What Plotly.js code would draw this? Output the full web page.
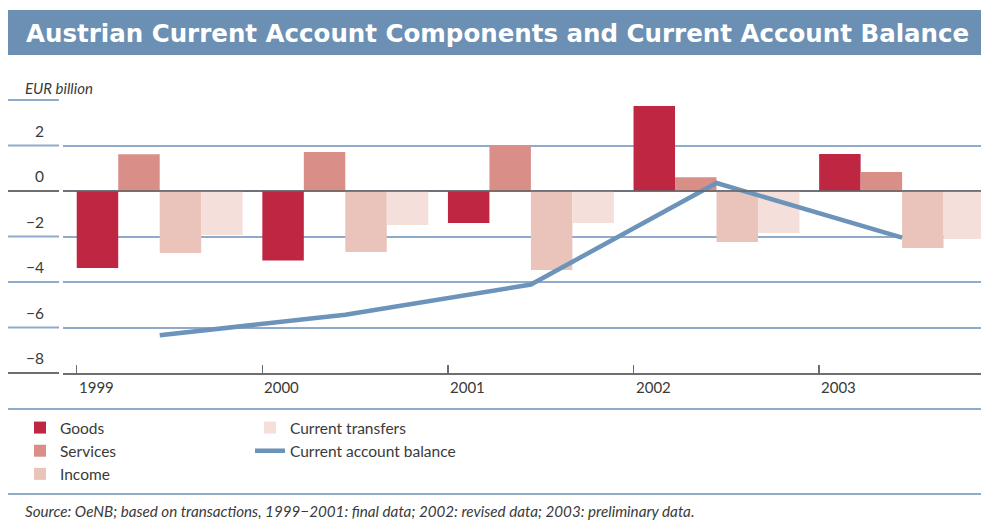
<!DOCTYPE html>
<html>
<head>
<meta charset="utf-8">
<script src="https://cdn.plot.ly/plotly-3.0.1.min.js"></script>
<style>html,body{margin:0;padding:0;background:#fff;}#chart{width:981px;height:524px;}</style>
</head>
<body>
<div id="chart"></div>
<script>
// ---- data ----
const years = [1999, 2000, 2001, 2002, 2003];
const goods = [-3.38, -3.05, -1.41, 3.74, 1.63];
const services = [1.61, 1.71, 2.01, 0.60, 0.84];
const income = [-2.72, -2.68, -3.47, -2.24, -2.51];
const transfers = [-1.93, -1.49, -1.41, -1.85, -2.11];
const balance = [-6.34, -5.44, -4.11, 0.35, -2.05];
const seriesNames = ['Goods', 'Services', 'Income', 'Current transfers', 'Current account balance'];
const yTicks = [-8, -6, -4, -2, 0, 2, 4];
const titleText = 'Austrian Current Account Components and Current Account Balance';
const unitText = 'EUR billion';
const sourceText = 'Source: OeNB; based on transactions, 1999\u22122001: final data; 2002: revised data; 2003: preliminary data.';

// ---- layout geometry ----
const W = 981, H = 524, L = 63, R = 0, T = 100, B = 151;
const PW = W - L - R, PH = H - T - B;
const px2x = p => (p - L) / PW;
const py2y = p => (H - B - p) / PH;
const yMin = -8, yMax = 4;
const v2y = v => (v - yMin) / (yMax - yMin);
const xRange = [years[0] - 0.521, years[0] - 0.521 + PW / 185.6];
const tickOffset = 0.447;

const colors = ['#be2641', '#d98f88', '#eac4bb', '#f5dfda', '#6c93b9'];
const textFont = 'Lato, "Open Sans", sans-serif';

const barSeries = [goods, services, income, transfers];
const traces = barSeries.map((vals, i) => ({
  type: 'bar', x: years, y: vals, name: seriesNames[i],
  marker: {color: colors[i], line: {width: 0}},
  legend: i < 3 ? 'legend' : 'legend2',
  hoverinfo: 'skip'
}));
traces.push({
  type: 'scatter', mode: 'lines', x: years, y: balance, name: seriesNames[4],
  line: {color: colors[4], width: 4.5}, legend: 'legend2', hoverinfo: 'skip'
});

const gridColor = '#8fabc9';
const darkLine = '#6e6e6e';
const shapes = [];
// title banner
shapes.push({type: 'rect', xref: 'paper', yref: 'paper', x0: px2x(8), x1: px2x(981), y0: py2y(55), y1: py2y(10),
  fillcolor: '#6b90b4', line: {width: 0}, layer: 'below'});
// left gridline segments
yTicks.forEach(v => {
  const c = (v === 0 || v === yMin) ? darkLine : gridColor;
  shapes.push({type: 'line', xref: 'paper', yref: 'paper', x0: px2x(8), x1: px2x(59), y0: v2y(v), y1: v2y(v),
    line: {color: c, width: 2}});
});
// zero line over bars
shapes.push({type: 'line', xref: 'paper', yref: 'paper', x0: 0, x1: 1, y0: v2y(0), y1: v2y(0),
  line: {color: 'rgba(100,100,100,0.8)', width: 2}, layer: 'above'});
// separators
shapes.push({type: 'line', xref: 'paper', yref: 'paper', x0: px2x(8), x1: px2x(981), y0: py2y(409), y1: py2y(409),
  line: {color: gridColor, width: 2}});
shapes.push({type: 'line', xref: 'paper', yref: 'paper', x0: px2x(8), x1: px2x(981), y0: py2y(494), y1: py2y(494),
  line: {color: gridColor, width: 2}});

const annotations = [];
years.forEach(yr => {
  annotations.push({xref: 'x', yref: 'paper', x: yr - tickOffset, y: 0, xanchor: 'left', yanchor: 'top', yshift: -3,
    text: String(yr), showarrow: false, font: {family: textFont, size: 15, color: '#3a3a3a'}});
});
annotations.push({xref: 'paper', yref: 'paper', x: px2x(23), y: py2y(88), xanchor: 'left', yanchor: 'middle',
  text: '<i>' + unitText + '</i>', showarrow: false, font: {family: textFont, size: 15, color: '#3a3a3a'}});
annotations.push({xref: 'paper', yref: 'paper', x: px2x(23), y: py2y(511), xanchor: 'left', yanchor: 'middle',
  text: '<i>' + sourceText + '</i>', showarrow: false, font: {family: textFont, size: 15.2, color: '#3a3a3a'}});

const layout = {
  width: W, height: H,
  margin: {l: L, r: R, t: T, b: B, pad: 0},
  paper_bgcolor: '#ffffff', plot_bgcolor: '#ffffff',
  title: {text: titleText, xref: 'container', yref: 'container', x: 26 / W, xanchor: 'left',
    y: 1 - 33 / H, yanchor: 'middle',
    font: {family: '"DejaVu Sans", sans-serif', size: 24.5, color: '#ffffff', weight: 'bold'}},
  barmode: 'group', bargap: 0.106, bargroupgap: 0,
  showlegend: true,
  xaxis: {range: xRange, showgrid: false, zeroline: false, showline: true, linecolor: darkLine, linewidth: 2,
    tickvals: years.map(y => y - tickOffset), ticks: 'inside', ticklen: 8, tickcolor: darkLine, tickwidth: 1.5,
    showticklabels: false, fixedrange: true},
  yaxis: {range: [yMin, yMax], tickvals: yTicks,
    ticktext: yTicks.map(v => v === yMax ? '' : (v < 0 ? '\u2212' : '') + Math.abs(v)),
    showgrid: true, gridcolor: gridColor, gridwidth: 2, zeroline: false, showline: false, ticks: '',
    ticklabelstandoff: 18, ticklabelshift: -14,
    tickfont: {family: textFont, size: 15.5, color: '#3a3a3a'}, fixedrange: true},
  legend: {x: px2x(20), y: py2y(411), xanchor: 'left', yanchor: 'top', orientation: 'v', itemwidth: 30,
    bgcolor: 'rgba(0,0,0,0)', font: {family: textFont, size: 15.5, color: '#3a3a3a'}, tracegroupgap: 0},
  legend2: {x: px2x(250), y: py2y(411), xanchor: 'left', yanchor: 'top', orientation: 'v',
    bgcolor: 'rgba(0,0,0,0)', font: {family: textFont, size: 15.5, color: '#3a3a3a'}, tracegroupgap: 0},
  shapes: shapes,
  annotations: annotations
};

Plotly.newPlot('chart', traces, layout, {displayModeBar: false, staticPlot: true});
</script>
</body>
</html>
